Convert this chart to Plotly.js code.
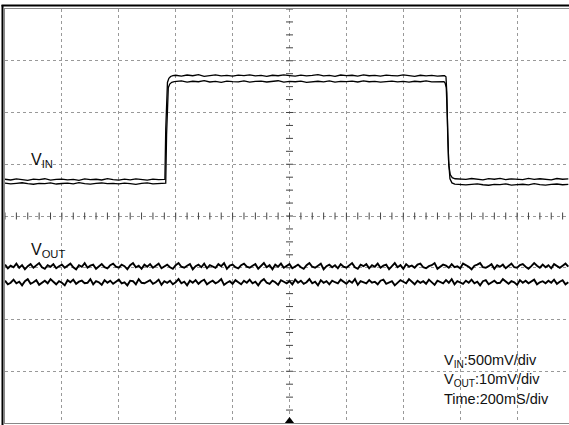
<!DOCTYPE html>
<html>
<head>
<meta charset="utf-8">
<script src="https://cdn.plot.ly/plotly-3.0.1.min.js"></script>
<style>
html,body{margin:0;padding:0;background:#fff;overflow:hidden;}
#chart{width:569px;height:425px;}
</style>
</head>
<body>
<div id="chart"></div>
<script>
// ---- Data (time in ms, VIN in V, VOUT in mV) ----
const timePerDiv = 200;      // ms/div
const vinPerDiv = 0.5;       // V/div
const voutPerDiv = 10;       // mV/div
const flatStep = 20;         // ms between VIN samples on flat parts
const voutStep = 10;         // ms between VOUT samples

// VIN trace A (upper envelope)
const vinA_low1 = [0.015,0.008,0.018,0.010,0.004,0.016,0.012,0.020,0.007,0.013,
  0.017,0.009,0.014,0.005,0.019,0.011,0.015,0.008,0.021,0.012,
  0.006,0.016,0.010,0.018,0.013,0.007,0.017,0.011,0.014];            // t 0..560
const vinA_riseT = [562,565,568,571,576,582,590];
const vinA_riseV = [0.015,0.50,0.86,0.95,0.99,1.008,1.017];
const vinA_high = [1.020,1.012,1.022,1.015,1.025,1.010,1.018,1.023,1.014,1.019,
  1.011,1.021,1.016,1.024,1.013,1.018,1.009,1.020,1.015,1.023,
  1.017,1.012,1.021,1.014,1.019,1.026,1.013,1.018,1.010,1.022,
  1.016,1.020,1.012,1.024,1.015,1.019,1.011,1.021,1.017,1.013,
  1.023,1.016,1.010,1.020,1.014,1.018,1.012,1.015];                  // t 600..1540
const vinA_fallT = [1545,1550,1553,1556,1560,1565,1572,1582,1592];
const vinA_fallV = [1.015,1.005,0.85,0.45,0.15,0.06,0.03,0.02,0.018];
const vinA_low2 = [0.020,0.013,0.022,0.016,0.010,0.021,0.015,0.024,0.012,0.019,
  0.017,0.011,0.023,0.014,0.020,0.016,0.009,0.022,0.015,0.018];      // t 1600..1980

// VIN trace B (lower envelope)
const vinB_low1 = [-0.022,-0.030,-0.025,-0.019,-0.028,-0.033,-0.024,-0.027,-0.020,-0.031,
  -0.026,-0.023,-0.029,-0.018,-0.027,-0.032,-0.024,-0.021,-0.028,-0.025,
  -0.030,-0.022,-0.027,-0.034,-0.025,-0.020,-0.029,-0.026,-0.023];
const vinB_riseT = [565,568,571,574,579,586,595];
const vinB_riseV = [-0.023,0.45,0.82,0.90,0.935,0.952,0.958];
const vinB_high = [0.958,0.965,0.954,0.962,0.957,0.968,0.955,0.961,0.952,0.964,
  0.959,0.956,0.966,0.953,0.960,0.963,0.955,0.958,0.967,0.954,
  0.961,0.957,0.964,0.952,0.959,0.962,0.956,0.965,0.953,0.960,
  0.958,0.963,0.955,0.966,0.957,0.961,0.954,0.959,0.964,0.956,
  0.960,0.953,0.962,0.957,0.965,0.955,0.959,0.961];
const vinB_fallT = [1543,1547,1551,1555,1559,1564,1571,1581,1592];
const vinB_fallV = [0.958,0.945,0.90,0.60,0.20,0.02,-0.02,-0.032,-0.036];
const vinB_low2 = [-0.032,-0.040,-0.035,-0.029,-0.038,-0.043,-0.034,-0.037,-0.030,-0.041,
  -0.036,-0.033,-0.039,-0.028,-0.037,-0.042,-0.034,-0.031,-0.038,-0.035];

// VOUT traces (mV)
const voutUpper = [-9.4,-10.1,-9.6,-9.9,-9.2,-10.0,-9.5,-10.3,-9.7,-9.3,
  -10.0,-9.6,-9.1,-9.9,-10.2,-9.5,-9.8,-9.3,-10.1,-9.7,
  -9.4,-10.0,-9.6,-9.2,-9.9,-10.3,-9.5,-9.8,-9.1,-10.0,
  -9.6,-9.4,-10.2,-9.7,-9.3,-9.9,-10.1,-9.5,-9.2,-9.8,
  -10.0,-9.4,-9.7,-10.3,-9.5,-9.1,-9.9,-9.6,-10.2,-9.4,
  -9.8,-9.3,-10.0,-9.6,-9.2,-10.1,-9.7,-9.4,-9.9,-10.2,
  -9.5,-9.1,-9.8,-10.0,-9.6,-9.3,-10.3,-9.7,-9.4,-9.9,
  -9.2,-10.1,-9.5,-9.8,-10.0,-9.3,-9.7,-9.1,-10.2,-9.6,
  -9.4,-9.9,-10.1,-9.5,-9.2,-9.8,-10.0,-9.6,-9.3,-10.2,
  -9.7,-9.1,-9.9,-9.5,-10.3,-9.4,-9.8,-9.2,-10.0,-9.6,
  -9.3,-10.1,-9.7,-9.4,-9.9,-10.2,-9.5,-9.1,-9.8,-10.0,
  -9.6,-9.2,-10.3,-9.7,-9.4,-9.9,-9.5,-10.1,-9.3,-9.8,
  -10.0,-9.6,-9.1,-9.9,-10.2,-9.4,-9.7,-9.3,-10.1,-9.5,
  -9.8,-9.2,-10.0,-9.6,-9.4,-10.3,-9.7,-9.1,-9.9,-9.5,
  -10.2,-9.3,-9.8,-9.6,-10.0,-9.4,-9.2,-9.9,-10.1,-9.7,
  -9.5,-9.1,-10.2,-9.8,-9.4,-9.6,-10.0,-9.3,-9.9,-9.7,
  -10.1,-9.2,-9.5,-9.8,-10.3,-9.6,-9.4,-9.1,-9.9,-10.0,
  -9.7,-9.3,-10.2,-9.5,-9.8,-9.4,-10.1,-9.6,-9.2,-9.9,
  -10.0,-9.5,-9.3,-9.8,-10.2,-9.7,-9.1,-9.6,-10.0,-9.4,
  -9.9,-9.5,-10.1,-9.3,-9.7,-10.0,-9.6,-9.2,-9.8];
const voutLower = [-12.5,-13.2,-12.9,-12.3,-13.0,-12.7,-13.4,-12.6,-12.2,-13.1,
  -12.8,-12.4,-13.3,-12.9,-12.5,-13.0,-12.2,-12.7,-13.2,-12.6,
  -12.9,-13.4,-12.4,-12.8,-12.3,-13.1,-12.7,-12.5,-13.0,-12.9,
  -12.2,-13.2,-12.6,-12.8,-13.3,-12.4,-12.9,-12.5,-13.1,-12.7,
  -12.3,-13.0,-12.8,-13.4,-12.5,-12.6,-13.2,-12.2,-12.9,-13.0,
  -12.7,-12.4,-13.1,-12.8,-12.3,-13.3,-12.6,-12.9,-12.5,-13.2,
  -12.8,-12.2,-13.0,-12.7,-13.4,-12.5,-12.9,-12.4,-13.1,-12.6,
  -12.3,-13.2,-12.8,-12.5,-13.0,-12.7,-12.2,-13.3,-12.9,-12.6,
  -13.1,-12.4,-12.8,-13.2,-12.5,-12.9,-12.3,-13.0,-12.7,-13.4,
  -12.6,-12.2,-12.9,-13.1,-12.5,-12.8,-13.3,-12.4,-12.7,-13.0,
  -12.6,-13.2,-12.3,-12.9,-12.5,-13.1,-12.8,-12.2,-13.0,-12.7,
  -13.4,-12.4,-12.9,-12.6,-13.2,-12.5,-12.8,-13.0,-12.3,-12.7,
  -13.1,-12.5,-12.9,-12.2,-13.3,-12.6,-12.8,-13.0,-12.4,-12.9,
  -12.7,-13.2,-12.5,-12.3,-13.1,-12.8,-12.6,-13.4,-12.9,-12.4,
  -12.7,-13.0,-12.2,-12.8,-13.2,-12.5,-12.9,-12.6,-13.1,-12.3,
  -12.8,-13.3,-12.5,-12.7,-13.0,-12.4,-12.9,-12.2,-13.2,-12.6,
  -12.8,-13.1,-12.5,-12.9,-12.3,-13.0,-12.7,-13.4,-12.6,-12.4,
  -13.2,-12.8,-12.5,-13.0,-12.9,-12.2,-12.7,-13.1,-12.6,-12.8,
  -13.3,-12.4,-12.9,-12.5,-13.0,-12.7,-12.3,-13.2,-12.8,-12.6,
  -13.0,-12.5,-12.9,-12.3,-13.1,-12.7,-12.4,-13.2,-12.8];

// Labels
const labelVin = 'V<sub>IN</sub>';
const labelVout = 'V<sub>OUT</sub>';
const scaleLines = ['V<sub>IN</sub>:500mV/div', 'V<sub>OUT</sub>:10mV/div', 'Time:200mS/div'];

// ---- Build ----
function seg(t0, step, vals){ return vals.map((_, i) => t0 + i*step); }
const vinAx = [].concat(seg(0,flatStep,vinA_low1), vinA_riseT, seg(600,flatStep,vinA_high), vinA_fallT, seg(1600,flatStep,vinA_low2));
const vinAy = [].concat(vinA_low1, vinA_riseV, vinA_high, vinA_fallV, vinA_low2);
const vinBx = [].concat(seg(0,flatStep,vinB_low1), vinB_riseT, seg(600,flatStep,vinB_high), vinB_fallT, seg(1600,flatStep,vinB_low2));
const vinBy = [].concat(vinB_low1, vinB_riseV, vinB_high, vinB_fallV, vinB_low2);
const tVoutU = seg(0, voutStep, voutUpper);
const tVoutL = seg(0, voutStep, voutLower);

const W = 569, H = 425, ML = 5, MT = 9, MB = 2;
const plotW = W - ML, plotH = H - MT - MB;
const xMax = plotW / 56.9 * timePerDiv;       // visible time span
const vinMin = -2.34, vinMax = vinMin + 8*vinPerDiv;
const voutMin = -40, voutMax = voutMin + 8*voutPerDiv;
const xCenter = 5*timePerDiv, yCenter = vinMin + 4*vinPerDiv;

// centre-cross minor ticks
const hTickX = [], vTickY = [];
for (let t = 0; t <= xMax; t += timePerDiv/5) hTickX.push(t);
for (let v = vinMin; v <= vinMax + 1e-9; v += vinPerDiv/4) vTickY.push(v);

const font = 'Liberation Sans, Arial, sans-serif';
const vinStyle = {color:'#000', width:1.3};
const voutStyle = {color:'#000', width:1.9};

const traces = [
  {x: hTickX, y: hTickX.map(() => yCenter), mode:'markers', hoverinfo:'skip',
   marker:{symbol:'line-ns', size:5, line:{color:'#444', width:1}}},
  {x: vTickY.map(() => xCenter), y: vTickY, mode:'markers', hoverinfo:'skip',
   marker:{symbol:'line-ew', size:5, line:{color:'#444', width:1}}},
  {x: vinAx, y: vinAy, mode:'lines', line: vinStyle},
  {x: vinBx, y: vinBy, mode:'lines', line: vinStyle},
  {x: tVoutU, y: voutUpper, yaxis:'y2', mode:'lines', line: voutStyle},
  {x: tVoutL, y: voutLower, yaxis:'y2', mode:'lines', line: voutStyle},
  {x: [xCenter], y: [vinMin + 2/ (plotH/(8*vinPerDiv))], mode:'markers', cliponaxis:false,
   marker:{symbol:'triangle-up', size:8, color:'#000'}}
];

const px2paperX = p => (p - ML)/plotW;
const px2paperY = p => (H - MB - p)/plotH;

const ann = [
  {text: labelVin, x: px2paperX(29), y: px2paperY(161), xanchor:'left', yanchor:'middle'},
  {text: labelVout, x: px2paperX(29), y: px2paperY(251), xanchor:'left', yanchor:'middle'},
].concat(scaleLines.map((s, i) => ({
  text: s, x: px2paperX(442), y: px2paperY(361 + i*19), xanchor:'left', yanchor:'middle',
  font:{family: font, size:14.5, color:'#111'}
}))).map(a => Object.assign({xref:'paper', yref:'paper', showarrow:false,
  font:{family: font, size:16, color:'#111'}}, a));

const layout = {
  width: W, height: H,
  margin: {l: ML, r: 0, t: MT, b: MB, pad: 0},
  paper_bgcolor: '#fff', plot_bgcolor: '#fff',
  showlegend: false,
  xaxis: {range:[0, xMax], tick0:0, dtick: timePerDiv, showgrid:true, gridcolor:'#999', griddash:'dot', gridwidth:1,
          showticklabels:false, ticks:'', zeroline:false, showline:true, linecolor:'#888', linewidth:1, mirror:true, fixedrange:true},
  yaxis: {range:[vinMin, vinMax], tick0: vinMin, dtick: vinPerDiv, showgrid:true, gridcolor:'#999', griddash:'dot', gridwidth:1,
          showticklabels:false, ticks:'', zeroline:false, showline:true, linecolor:'#888', linewidth:1, mirror:true, fixedrange:true},
  yaxis2: {range:[voutMin, voutMax], overlaying:'y', showgrid:false, showticklabels:false, ticks:'', zeroline:false, showline:false, fixedrange:true},
  annotations: ann,
  shapes: [
    {type:'line', xref:'paper', yref:'paper', x0: px2paperX(2.5), x1: px2paperX(2.5), y0: px2paperY(H+2), y1: px2paperY(5), line:{color:'#000', width:2}},
    {type:'line', xref:'paper', yref:'paper', x0: px2paperX(1.5), x1: px2paperX(W+2), y0: px2paperY(5.5), y1: px2paperY(5.5), line:{color:'#000', width:2}}
  ]
};

Plotly.newPlot('chart', traces, layout, {displayModeBar:false, staticPlot:true});
</script>
</body>
</html>
